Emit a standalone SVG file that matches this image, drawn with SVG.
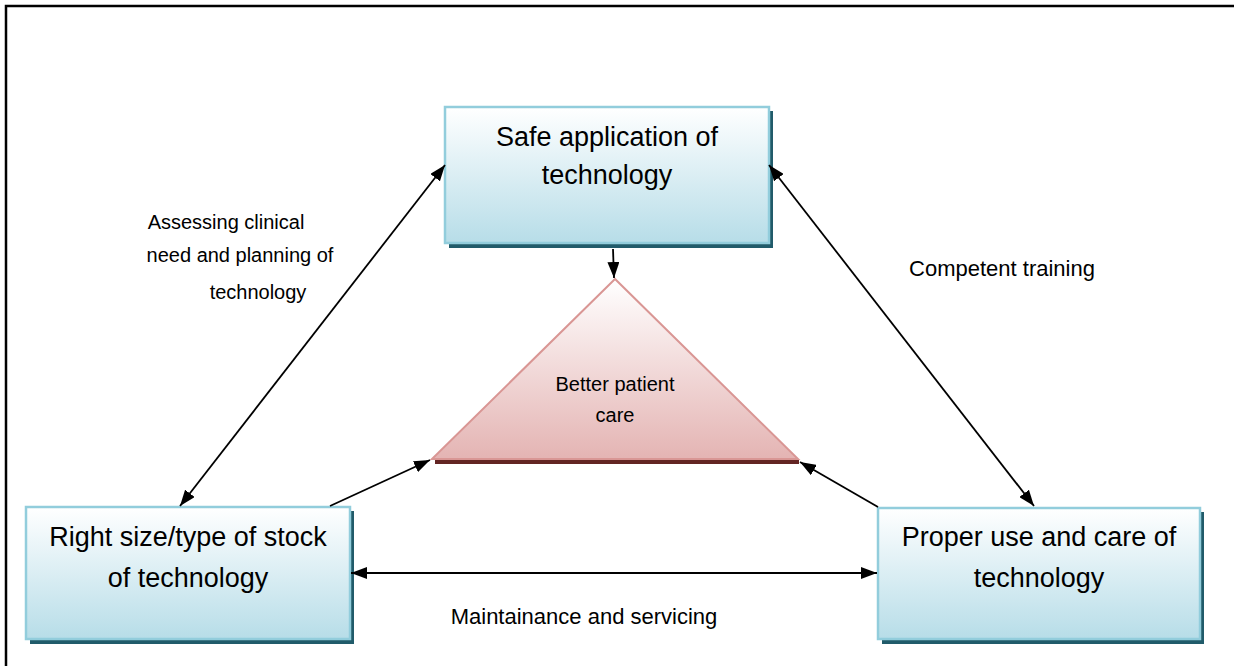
<svg xmlns="http://www.w3.org/2000/svg" width="1234" height="666" viewBox="0 0 1234 666">
<defs>
<linearGradient id="gBlue" x1="0" y1="0" x2="0" y2="1">
<stop offset="0" stop-color="#ffffff"/>
<stop offset="1" stop-color="#b7dde8"/>
</linearGradient>
<linearGradient id="gRed" x1="0" y1="0" x2="0" y2="1">
<stop offset="0" stop-color="#ffffff"/>
<stop offset="1" stop-color="#e4b4b3"/>
</linearGradient>
<marker id="ah" viewBox="0 0 16 12" refX="16" refY="6" markerWidth="16" markerHeight="12" markerUnits="userSpaceOnUse" orient="auto-start-reverse">
<path d="M0,0 L16,6 L0,12 z" fill="#000"/>
</marker>
<style>
.box{fill:url(#gBlue);stroke:#92cddc;stroke-width:2.5}
.shadow{fill:#215b6a}
.t{font-family:"Liberation Sans",Arial,sans-serif;fill:#000;text-anchor:middle}
.big{font-size:27px}
.lbl{font-size:20px}
.lbl2{font-size:22px}
.sm{font-size:20px}
.c{stroke:#000;stroke-width:1.8;fill:none}
</style>
</defs>
<rect x="0" y="0" width="1234" height="666" fill="#fff"/>
<rect x="6" y="6" width="1250" height="700" fill="none" stroke="#000" stroke-width="2.5"/>

<g id="node-top">
<rect class="shadow" x="449" y="111" width="324" height="137"/>
<rect class="box" x="445" y="107" width="324" height="136"/>
<text class="t big" x="607" y="146">Safe application of</text>
<text class="t big" x="607" y="184">technology</text>
</g>

<g id="node-left">
<rect class="shadow" x="30" y="511" width="324" height="133"/>
<rect class="box" x="26" y="507" width="324" height="132"/>
<text class="t big" x="188" y="546">Right size/type of stock</text>
<text class="t big" x="188" y="587">of technology</text>
</g>

<g id="node-right">
<rect class="shadow" x="882" y="512" width="322" height="132"/>
<rect class="box" x="878" y="508" width="322" height="131"/>
<text class="t big" x="1039" y="546">Proper use and care of</text>
<text class="t big" x="1039" y="587">technology</text>
</g>

<g id="node-center">
<rect x="435" y="459" width="364" height="5" fill="#632523"/>
<polygon points="615,279 432,459 798,459" fill="url(#gRed)" stroke="#d99694" stroke-width="2"/>
<text class="t sm" x="615" y="391">Better patient</text>
<text class="t sm" x="615" y="422">care</text>
</g>

<g id="connectors">
<line class="c" x1="180" y1="506" x2="445" y2="165" marker-start="url(#ah)" marker-end="url(#ah)"/>
<line class="c" x1="769" y1="165" x2="1034" y2="506" marker-start="url(#ah)" marker-end="url(#ah)"/>
<line class="c" x1="351" y1="573" x2="877" y2="573" marker-start="url(#ah)" marker-end="url(#ah)"/>
<line class="c" x1="613" y1="249" x2="614" y2="278" marker-end="url(#ah)"/>
<line class="c" x1="330" y1="506" x2="430" y2="460" marker-end="url(#ah)"/>
<line class="c" x1="878" y1="507" x2="800" y2="462" marker-end="url(#ah)"/>
</g>

<g id="labels">
<text class="t lbl" x="226" y="229">Assessing clinical</text>
<text class="t lbl" x="240" y="262">need and planning of</text>
<text class="t lbl" x="258" y="299">technology</text>
<text class="t lbl2" x="1002" y="276">Competent training</text>
<text class="t lbl2" x="584" y="624">Maintainance and servicing</text>
</g>
</svg>
